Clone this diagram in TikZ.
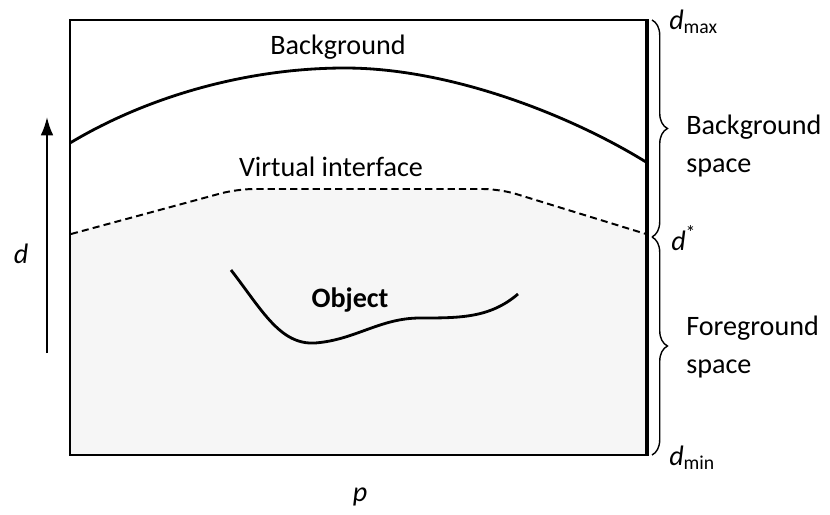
\documentclass[tikz,border=0pt]{standalone}
\usepackage{fontspec}
\setmainfont{Carlito}
\usepackage{tikz}
\usetikzlibrary{arrows.meta,decorations.pathreplacing}
\definecolor{StippleGray}{RGB}{246,246,246}

\begin{document}
\begin{tikzpicture}[x=0.025cm,y=-0.025cm,
    lbl/.style={font=\fontsize{20}{27}\selectfont, inner sep=0pt},
    bracelbl/.style={lbl, anchor=west, align=left},
    spacebrace/.style={decorate, decoration={brace, amplitude=11pt}, line width=1pt}]
  \useasboundingbox (0,0) rectangle (830,514);
  % foreground region below the virtual interface
  \fill[StippleGray] (70,234) -- (237,189) -- (500,189) -- (646,234)
    -- (646,455) -- (70,455) -- cycle;
  % depth range box
  \draw[line width=1.8pt] (646,20) -- (70,20) -- (70,455) -- (646,455);
  \draw[line width=3.4pt] (647,19) -- (647,456);
  \coordinate (dmaxpt) at (652,20);
  \coordinate (dstarpt) at (652,237);
  \coordinate (dminpt) at (652,455);
  % background surface
  \draw[line width=2pt] (70,143) .. controls (150,95) and (250,68) .. (345,68)
    .. controls (450,68) and (570,115) .. (646,162);
  % virtual interface
  \draw[line width=1.4pt, dash pattern=on 5pt off 3pt, rounded corners=12pt]
    (71,234) -- (237,189) -- (500,189) -- (646,234);
  % object
  \draw[line width=2pt] (231,270) .. controls (262,310) and (280,345) .. (315,343)
    .. controls (355,340) and (380,318) .. (420,318)
    .. controls (460,318) and (490,318) .. (518,294);
  \node[lbl, font=\fontsize{20}{24}\selectfont\bfseries] (object) at (350,300) {Object};
  \node[lbl] (background) at (338,47) {Background};
  \node[lbl] (interface) at (331,167) {Virtual interface};
  % depth axis
  \coordinate (axislow) at (47,353);
  \coordinate (axishigh) at (47,117);
  \draw[line width=1.5pt, -{Latex[length=13pt,width=9pt]}] (axislow) -- (axishigh);
  \node[lbl] (dlabel) at (21,254) {\textit{d}};
  \node[lbl] (plabel) at (360,497) {\textit{p}};
  % depth ranges
  \draw[spacebrace] (dmaxpt) -- (dstarpt);
  \draw[spacebrace] (dstarpt) -- (dminpt);
  \node[bracelbl] (dmax) at (669,22) {\textit{d}\textsubscript{max}};
  \node[bracelbl] (dstar) at (671,238) {\textit{d}\textsuperscript{*}};
  \node[bracelbl] (dmin) at (669,458) {\textit{d}\textsubscript{min}};
  \node[bracelbl] (bgspace) at (686,146) {Background\\space};
  \node[bracelbl] (fgspace) at (686,347) {Foreground\\space};
\end{tikzpicture}
\end{document}
